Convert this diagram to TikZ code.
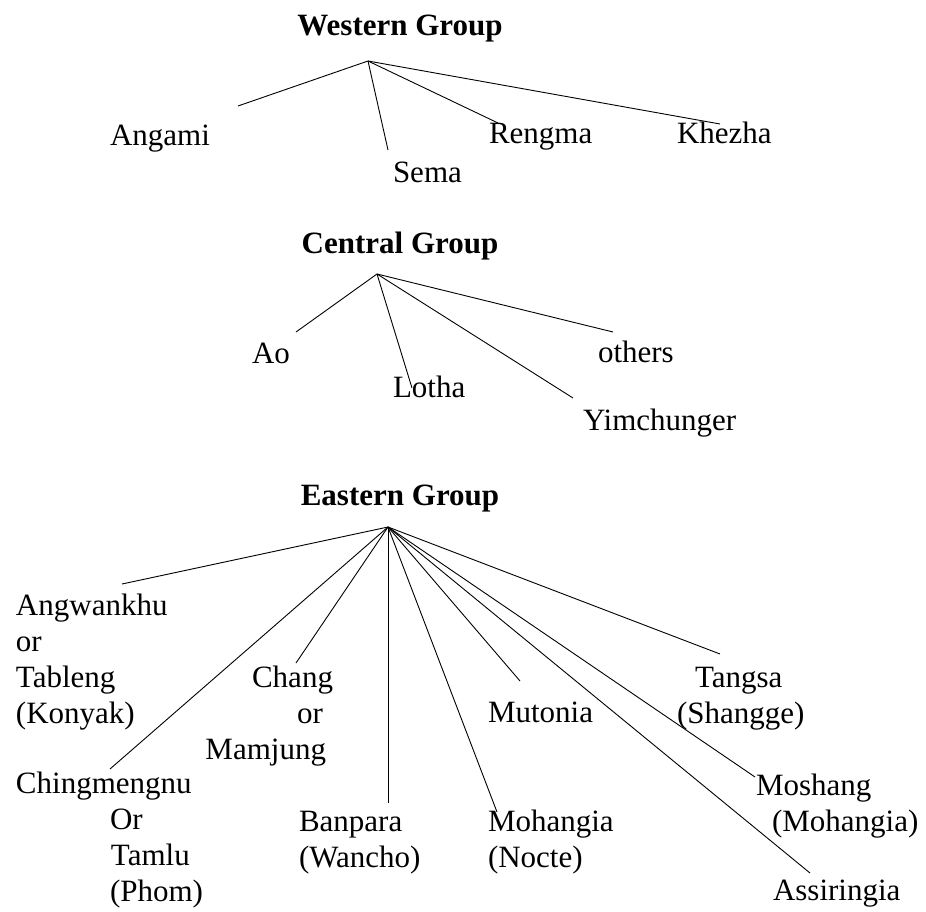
\documentclass[tikz,border=0pt]{standalone}
\usepackage{fontspec}
\setmainfont{Liberation Serif}
\usetikzlibrary{calc}

% stacked label lines, baseline on the first line
\newcommand{\stackL}[1]{\begin{tabular}[t]{@{}l@{}}#1\end{tabular}}
\newcommand{\stackR}[1]{\begin{tabular}[t]{@{}r@{}}#1\end{tabular}}

\tikzset{
  lbl/.style={inner sep=0pt, outer sep=0pt, anchor=base west,
    font=\fontsize{31}{36}\selectfont},
  grouptitle/.style={inner sep=0pt, outer sep=0pt, anchor=base,
    font=\fontsize{31}{36}\selectfont\bfseries},
  branch/.style={line width=0.9pt, black}
}

\begin{document}
\begin{tikzpicture}[x=1pt, y=-1pt]
\useasboundingbox (0,0) rectangle (926,912);

% ---------------- Western Group ----------------
\node[grouptitle] (wtitle) at (400,36) {Western Group};
\coordinate (wroot) at (368,61);
\node[lbl] (angami) at (110,146) {Angami};
\node[lbl] (sema)   at (393,183) {Sema};
\node[lbl] (rengma) at (489,144) {Rengma};
\node[lbl] (khezha) at (677,144) {Khezha};
\coordinate (angami-tip) at (238,106);
\coordinate (sema-tip)   at (388,150);
\coordinate (rengma-tip) at (498,123);
\coordinate (khezha-tip) at (720,124);
\foreach \t in {angami,sema,rengma,khezha}
  \draw[branch] (wroot) -- (\t-tip);

% ---------------- Central Group ----------------
\node[grouptitle] (ctitle) at (400,253) {Central Group};
\coordinate (croot) at (377,274);
\node[lbl] (ao)         at (252,363) {Ao};
\node[lbl] (lotha)      at (393,397) {Lotha};
\node[lbl] (others)     at (598,362) {others};
\node[lbl] (yimchunger) at (583,430) {Yimchunger};
\coordinate (ao-tip)         at (296,332);
\coordinate (lotha-tip)      at (412,388);
\coordinate (yimchunger-tip) at (573,398);
\coordinate (others-tip)     at (613,332);
\foreach \t in {ao,lotha,yimchunger,others}
  \draw[branch] (croot) -- (\t-tip);

% ---------------- Eastern Group ----------------
\node[grouptitle] (etitle) at (400,505) {Eastern Group};
\coordinate (eroot) at (388,527);
\node[lbl] (angwankhu) at (16,615)
  {\stackL{Angwankhu\\or\\Tableng\\(Konyak)}};
\node[lbl] (chingmengnu) at (16,793)
  {\stackL{Chingmengnu\\\hspace*{94pt}Or\\\hspace*{95pt}Tamlu\\\hspace*{94pt}(Phom)}};
\node[lbl, anchor=base east] (chang) at (333,687)
  {\stackR{Chang\\or\hspace*{10pt}\\Mamjung\hspace*{7pt}}};
\node[lbl] (banpara) at (299,831) {\stackL{Banpara\\(Wancho)}};
\node[lbl] (mutonia) at (488,722) {Mutonia};
\node[lbl] (mohangia) at (488,831) {\stackL{Mohangia\\(Nocte)}};
\node[lbl] (tangsa) at (677,687) {\stackL{\hspace*{18pt}Tangsa\\(Shangge)}};
\node[lbl] (moshang) at (756,795) {\stackL{Moshang\\\hspace*{16pt}(Mohangia)}};
\node[lbl] (assiringia) at (773,900) {Assiringia};
\coordinate (angwankhu-tip)   at (122,584);
\coordinate (chingmengnu-tip) at (110,769);
\coordinate (chang-tip)       at (296,663);
\coordinate (banpara-tip)     at (388,803);
\coordinate (mohangia-tip)    at (497,812);
\coordinate (mutonia-tip)     at (520,681);
\coordinate (assiringia-tip)  at (810,873);
\coordinate (moshang-tip)     at (755,777);
\coordinate (tangsa-tip)      at (720,654);
\foreach \t in {angwankhu,chingmengnu,chang,banpara,mohangia,mutonia,assiringia,moshang,tangsa}
  \draw[branch] (eroot) -- (\t-tip);
\end{tikzpicture}
\end{document}
